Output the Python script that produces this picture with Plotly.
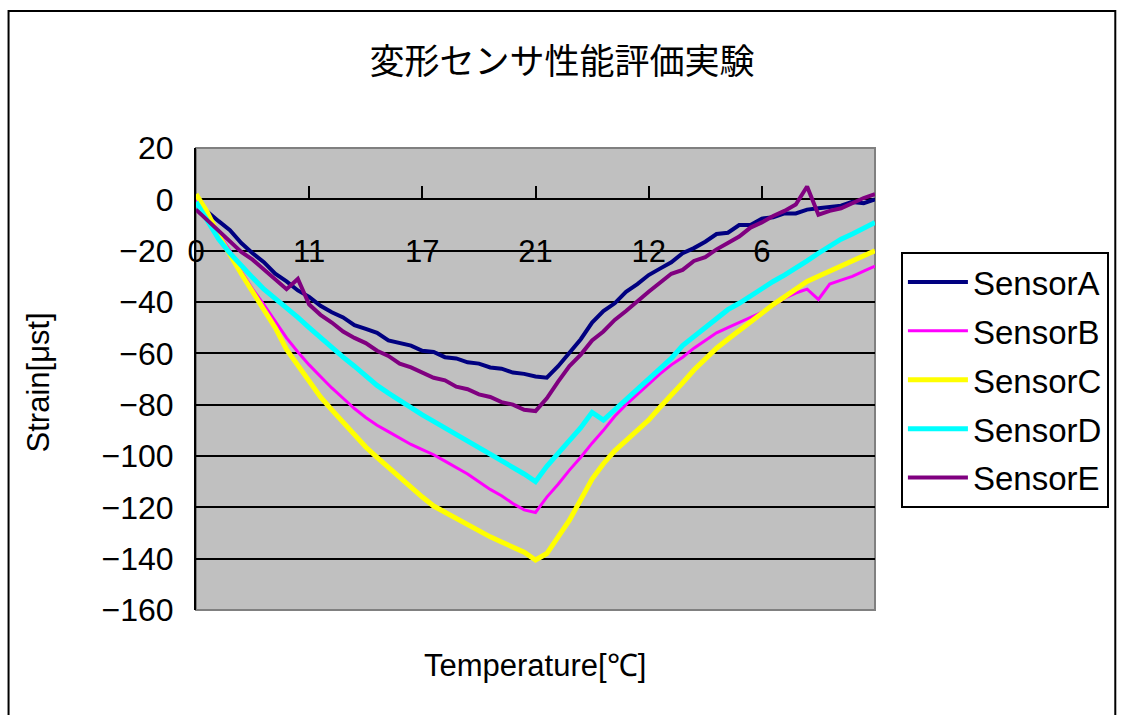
import plotly.graph_objects as go

# Sample index along the temperature cycle (one reading every 10 samples)
sample = list(range(0, 601, 10))

sensor_a = [-1, -5, -8.5, -12, -17, -21, -24.5, -29, -32, -35.5,
            -38, -41.5, -44, -46, -49, -50.5, -52, -55, -56, -57,
            -59, -59.5, -61.5, -62, -63.5, -64, -65.5, -66, -67.5, -68,
            -69, -69.5, -65, -60, -54.5, -48, -43.5, -40.5, -36, -33,
            -29.5, -27, -24.5, -21, -19, -16.5, -13.5, -13, -10, -10,
            -7.5, -7, -5.5, -5.5, -4, -3.5, -3, -2.5, -1, -1.5,
            0]

sensor_b = [0, -6, -13, -20, -28, -35, -41, -47.5, -54, -59.5,
            -64.5, -69, -73.5, -77.5, -81.5, -85, -88, -90.5, -93, -95.5,
            -97.5, -99.5, -102, -104.5, -107, -110, -113, -115.5, -118.5, -121,
            -122, -116, -111, -105.5, -100.5, -95, -90, -84.5, -80, -76,
            -72, -68, -64.5, -61.5, -58, -55, -52, -50, -48, -46,
            -44, -41.5, -38.5, -36.5, -35, -39, -33, -31.5, -30, -28,
            -26]

sensor_c = [2, -5, -14, -22, -29, -36, -43, -50, -58.5, -64.5,
            -70.5, -77, -82, -87, -92, -96.5, -100.5, -104.5, -108.5, -112.5,
            -116, -119.5, -122, -124.5, -127, -129.5, -131.5, -133.5, -135.5, -137.5,
            -140.5, -138, -131.5, -125, -117, -109, -103, -98, -94, -90,
            -86, -81, -76.5, -71.5, -66.5, -62, -58, -54.5, -51, -47.5,
            -44, -41, -38, -35, -32, -30, -28, -26, -24, -22,
            -20]

sensor_d = [-1, -8, -15.5, -21, -26, -30.5, -35, -38.5, -42, -46,
            -50, -54, -58, -61.5, -65, -69, -72.5, -75.5, -78.5, -81.5,
            -84, -86.5, -89, -91.5, -94, -96.5, -99.5, -102, -104.5, -107,
            -110, -104, -99, -94, -89, -83, -86, -82, -78, -74,
            -70, -66, -62, -57, -53.5, -50, -46.5, -43, -40.5, -37.5,
            -35, -32, -29.5, -27, -24, -21, -18, -15.5, -13.5, -11,
            -9]

sensor_e = [-4, -8, -12.5, -16, -20.5, -23.5, -27.5, -31, -35, -31,
            -41, -45, -48, -51.5, -54, -56, -59, -61, -64, -65.5,
            -67.5, -69.5, -70.5, -73, -74, -76, -77, -79, -80, -82,
            -82.5, -77.5, -71, -65, -60.5, -55, -51.5, -47, -43.5, -39.5,
            -36, -32.5, -29, -27.5, -24, -22.5, -19.5, -17, -14.5, -11,
            -9, -6.5, -4.5, -2, 5, -6, -4.5, -3.5, -1.5, 0.5,
            2]

series_names = ["SensorA", "SensorB", "SensorC", "SensorD", "SensorE"]
series_values = [sensor_a, sensor_b, sensor_c, sensor_d, sensor_e]
series_colors = ["#000080", "#FF00FF", "#FFFF00", "#00FFFF", "#800080"]
series_widths = [4, 3, 5, 5, 4]

# Temperature labels shown along the axis
tick_pos = [0, 100, 200, 300, 400, 500, 600]
tick_text = ["0", "11", "17", "21", "12", "6", ""]

W, H = 1121, 715
L, R, T, B = 196, 244, 148, 105
plot_w = W - L - R
plot_h = H - T - B


def px_x(p):
    return (p - L) / plot_w


def px_y(p):
    return (H - B - p) / plot_h


fig = go.Figure()
for name, vals, col, wd in zip(series_names, series_values, series_colors, series_widths):
    fig.add_trace(go.Scatter(
        x=sample, y=vals, mode="lines", name=name, legendgroup=name,
        line=dict(color=col, width=wd),
    ))

latin = "Liberation Sans, Arial, sans-serif"
y_min, y_max = -160, 20

fig.update_layout(
    width=W, height=H,
    margin=dict(l=L, r=R, t=T, b=B),
    paper_bgcolor="white",
    plot_bgcolor="#C0C0C0",
    title=dict(
        text="変形センサ性能評価実験",
        font=dict(family="Noto Sans CJK JP", size=35, color="black"),
        xref="container", yref="container",
        x=562 / W, y=1 - 62 / H, xanchor="center", yanchor="middle",
    ),
    xaxis=dict(
        range=[0, 600],
        tickmode="array", tickvals=tick_pos, ticktext=tick_text,
        showgrid=False, zeroline=False,
        showline=True, linecolor="black", linewidth=2,
        ticks="inside", ticklen=12, tickwidth=2, tickcolor="black",
        tickfont=dict(family=latin, size=31, color="black"),
        ticklabelstandoff=24,
        anchor="free", position=(0 - y_min) / (y_max - y_min),
        layer="below traces",
    ),
    yaxis=dict(
        range=[y_min, y_max], dtick=20, tick0=0,
        showgrid=True, gridcolor="black", gridwidth=2,
        zeroline=False,
        showline=True, linecolor="black", linewidth=2,
        ticks="inside", ticklen=10, tickwidth=2, tickcolor="black",
        tickfont=dict(family=latin, size=32, color="black"),
        ticklabelstandoff=14,
        layer="below traces",
    ),
    legend=dict(
        x=px_x(903), y=px_y(252), xanchor="left", yanchor="top",
        bgcolor="white", bordercolor="black", borderwidth=2,
        font=dict(family=latin, size=33, color="black"),
        tracegroupgap=3, itemwidth=60,
    ),
    showlegend=True,
)

# Axis titles
fig.add_annotation(
    text="Temperature[℃]", xref="paper", yref="paper",
    x=px_x(536), y=px_y(665), xanchor="center", yanchor="middle",
    showarrow=False, font=dict(family=latin, size=31, color="black"),
)
fig.add_annotation(
    text="Strain[μst]", xref="paper", yref="paper",
    x=px_x(38), y=px_y(382), xanchor="center", yanchor="middle",
    textangle=-90, showarrow=False,
    font=dict(family=latin, size=31, color="black"),
)

# Plot-area frame (gray) and outer chart frame (black)
fig.add_shape(type="rect", xref="paper", yref="paper", x0=0, y0=0, x1=1, y1=1,
              line=dict(color="#808080", width=2), layer="below")
fig.add_shape(type="rect", xref="paper", yref="paper",
              x0=px_x(8), y0=px_y(725), x1=px_x(1118), y1=px_y(11),
              line=dict(color="black", width=2), layer="above")

fig.write_html("out.html")
